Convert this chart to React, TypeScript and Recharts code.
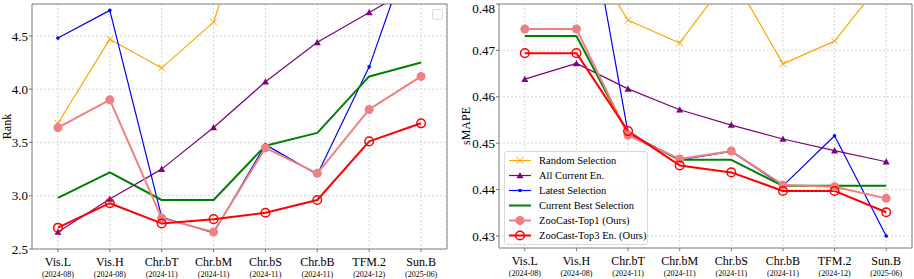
import React from "react";
import { LineChart, Line, XAxis, YAxis, CartesianGrid, ReferenceArea } from "recharts";

const categories = ["Vis.L", "Vis.H", "Chr.bT", "Chr.bM", "Chr.bS", "Chr.bB", "TFM.2", "Sun.B"];
const releaseDates = ["2024-08", "2024-08", "2024-11", "2024-11", "2024-11", "2024-11", "2024-12", "2025-06"];

// left panel: average rank (lower is better)
const rankRandom = [3.68, 4.47, 4.2, 4.63, 6.1, 5.9, 5.8, 5.9];
const rankAllCurrent = [2.66, 2.97, 3.25, 3.64, 4.07, 4.44, 4.72, 5.0];
const rankLatest = [4.48, 4.74, 2.8, 2.65, 3.48, 3.2, 4.21, 5.6];
const rankCurrentBest = [2.98, 3.22, 2.96, 2.96, 3.47, 3.59, 4.12, 4.25];
const rankTop1 = [3.64, 3.9, 2.79, 2.66, 3.45, 3.21, 3.81, 4.12];
const rankTop3 = [2.7, 2.93, 2.74, 2.78, 2.84, 2.96, 3.51, 3.68];

// right panel: sMAPE
const smapeRandom = [0.49, 0.4945, 0.4765, 0.4716, 0.4865, 0.4671, 0.472, 0.486];
const smapeAllCurrent = [0.4638, 0.4672, 0.4617, 0.4572, 0.4539, 0.4509, 0.4484, 0.446];
const smapeLatest = [0.505, 0.514, 0.4522, 0.4464, 0.4482, 0.4408, 0.4516, 0.43];
const smapeCurrentBest = [0.4731, 0.4731, 0.452, 0.4464, 0.4464, 0.4408, 0.4408, 0.4408];
const smapeTop1 = [0.4746, 0.4746, 0.4517, 0.4466, 0.4483, 0.441, 0.4406, 0.4381];
const smapeTop3 = [0.4694, 0.4694, 0.4526, 0.4452, 0.4437, 0.4397, 0.4397, 0.4351];

const rankTicks = [2.5, 3.0, 3.5, 4.0, 4.5];
const smapeTicks = [0.43, 0.44, 0.45, 0.46, 0.47, 0.48];

const FONT = "'Liberation Serif', 'Times New Roman', serif";
const X_DOMAIN: [number, number] = [-0.5, 7.5];
const X_TICKS = categories.map((_, i) => i);

const series = [
  { key: "random", name: "Random Selection", color: "orange", width: 1.2, marker: "x" },
  { key: "allCurrent", name: "All Current En.", color: "purple", width: 1.2, marker: "tri" },
  { key: "latest", name: "Latest Selection", color: "blue", width: 1.2, marker: "dot" },
  { key: "currentBest", name: "Current Best Selection", color: "green", width: 2, marker: "none" },
  { key: "top1", name: "ZooCast-Top1 (Ours)", color: "lightcoral", width: 2, marker: "circle" },
  { key: "top3", name: "ZooCast-Top3 En. (Ours)", color: "red", width: 2, marker: "ring" },
];

const rankData = categories.map((c, i) => ({
  idx: i,
  random: rankRandom[i],
  allCurrent: rankAllCurrent[i],
  latest: rankLatest[i],
  currentBest: rankCurrentBest[i],
  top1: rankTop1[i],
  top3: rankTop3[i],
}));

const smapeData = categories.map((c, i) => ({
  idx: i,
  random: smapeRandom[i],
  allCurrent: smapeAllCurrent[i],
  latest: smapeLatest[i],
  currentBest: smapeCurrentBest[i],
  top1: smapeTop1[i],
  top3: smapeTop3[i],
}));

function Marker({ cx, cy, kind, color }: any) {
  if (cx == null || cy == null || kind === "none") return <g />;
  if (kind === "x") {
    const s = 3.5;
    return (
      <g stroke={color} strokeWidth={1}>
        <line x1={cx - s} y1={cy - s} x2={cx + s} y2={cy + s} />
        <line x1={cx - s} y1={cy + s} x2={cx + s} y2={cy - s} />
      </g>
    );
  }
  if (kind === "tri") {
    const s = 3.5;
    return <polygon points={`${cx},${cy - s} ${cx - s},${cy + s * 0.8} ${cx + s},${cy + s * 0.8}`} fill={color} />;
  }
  if (kind === "dot") return <circle cx={cx} cy={cy} r={1.8} fill={color} />;
  if (kind === "circle") return <circle cx={cx} cy={cy} r={4.5} fill={color} />;
  return <circle cx={cx} cy={cy} r={4.3} fill="none" stroke={color} strokeWidth={1.5} />;
}

function CategoryTick({ x, y, payload }: any) {
  const i = payload.value;
  return (
    <g fontFamily={FONT} fill="#000">
      <text x={x} y={y + 12} textAnchor="middle" fontSize={12}>
        {categories[i]}
      </text>
      <text x={x} y={y + 23} textAnchor="middle" fontSize={8}>
        ({releaseDates[i]})
      </text>
    </g>
  );
}

function axisTitle(text: string, dx: number) {
  return (props: any) => {
    const vb = props.viewBox || {};
    const x = (vb.x || 0) + dx;
    const cy = (vb.y || 0) + (vb.height || 0) / 2;
    return (
      <text x={x} y={cy} transform={`rotate(-90 ${x} ${cy})`} textAnchor="middle" fontSize={12} fontFamily={FONT} fill="#000">
        {text}
      </text>
    );
  };
}

function Panel({ data, yDomain, yTicks, yWidth, rightMargin, width, xHeight, title, titleDx, fmt }: any) {
  return (
    <LineChart width={width} height={279} data={data} margin={{ top: 4, right: rightMargin, bottom: 0, left: 0 }}>
      <CartesianGrid strokeDasharray="2 2" stroke="#d6d6d6" />
      <XAxis
        type="number"
        dataKey="idx"
        domain={X_DOMAIN}
        ticks={X_TICKS}
        interval={0}
        height={xHeight}
        axisLine={false}
        tickLine={{ stroke: "#777" }}
        tickSize={3}
        tickMargin={2}
        tick={<CategoryTick />}
      />
      <YAxis
        type="number"
        domain={yDomain}
        ticks={yTicks}
        allowDataOverflow
        width={yWidth}
        axisLine={false}
        tickLine={{ stroke: "#777" }}
        tickSize={3}
        tickMargin={1}
        tickFormatter={fmt}
        tick={{ fontSize: 13, fontFamily: FONT, fill: "#000" }}
        label={axisTitle(title, titleDx)}
      />
      {series.map((s) => (
        <Line
          key={s.key}
          dataKey={s.key}
          name={s.name}
          stroke={s.color}
          strokeWidth={s.width}
          strokeLinejoin="round"
          isAnimationActive={false}
          dot={(p: any) => <Marker key={`${s.key}-${p.index}`} cx={p.cx} cy={p.cy} kind={s.marker} color={s.color} />}
          activeDot={false}
        />
      ))}
      <ReferenceArea x1={X_DOMAIN[0]} x2={X_DOMAIN[1]} fill="none" stroke="#808080" strokeWidth={1} ifOverflow="visible" />
    </LineChart>
  );
}

function LegendRow({ s }: any) {
  return (
    <div style={{ display: "flex", alignItems: "center", height: 15 }}>
      <svg width={30} height={15} style={{ flex: "none" }}>
        <line x1={4} y1={7.5} x2={26} y2={7.5} stroke={s.color} strokeWidth={s.width} />
        <Marker cx={15} cy={7.5} kind={s.marker} color={s.color} />
      </svg>
      <span style={{ marginLeft: 4, fontSize: 10.5, fontFamily: FONT, color: "#000", whiteSpace: "nowrap" }}>{s.name}</span>
    </div>
  );
}

export default function App() {
  return (
    <div style={{ position: "absolute", left: 0, top: 0, width: 914, height: 279, background: "#fff", display: "flex" }}>
      <div style={{ position: "relative", width: 455, height: 279 }}>
        <Panel
          data={rankData}
          yDomain={[2.5, 4.8]}
          yTicks={rankTicks}
          yWidth={32}
          rightMargin={8}
          width={455}
          xHeight={30}
          title="Rank"
          titleDx={11}
          fmt={(v: number) => v.toFixed(1)}
        />
        <div
          style={{
            position: "absolute",
            left: 432,
            top: 9,
            width: 9,
            height: 9,
            border: "1px solid #dcdcdc",
            borderRadius: 2,
            background: "rgba(255,255,255,0.8)",
          }}
        />
      </div>
      <div style={{ position: "relative", width: 459, height: 279 }}>
        <Panel
          data={smapeData}
          yDomain={[0.4274, 0.48]}
          yTicks={smapeTicks}
          yWidth={44}
          rightMargin={2}
          width={459}
          xHeight={31}
          title="sMAPE"
          titleDx={15}
          fmt={(v: number) => v.toFixed(2)}
        />
        <div
          style={{
            position: "absolute",
            left: 49,
            top: 151,
            width: 144,
            height: 94,
            boxSizing: "border-box",
            paddingTop: 1,
            border: "1px solid #d9d9d9",
            borderRadius: 3,
            background: "rgba(255,255,255,0.8)",
          }}
        >
          {series.map((s) => (
            <LegendRow key={s.key} s={s} />
          ))}
        </div>
      </div>
    </div>
  );
}
